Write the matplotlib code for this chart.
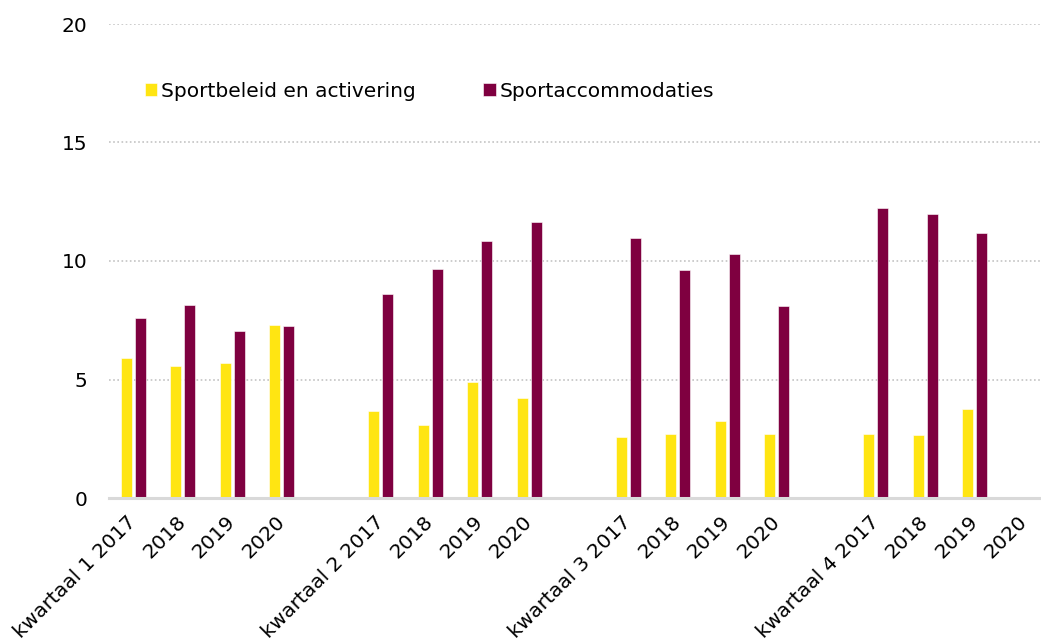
import numpy as np
import matplotlib
matplotlib.use("Agg")
import matplotlib.pyplot as plt

plt.rcParams['font.family'] = ['DejaVu Sans']

categories = ["kwartaal 1 2017", "2018", "2019", "2020", "",
              "kwartaal 2 2017", "2018", "2019", "2020", "",
              "kwartaal 3 2017", "2018", "2019", "2020", "",
              "kwartaal 4 2017", "2018", "2019", "2020"]

sportbeleid = [5.90, 5.56, 5.69, 7.31, np.nan,
               3.67, 3.06, 4.88, 4.22, np.nan,
               2.57, 2.71, 3.26, 2.71, np.nan,
               2.71, 2.64, 3.74, np.nan]

sportaccommodaties = [7.59, 8.13, 7.05, 7.25, np.nan,
                      8.62, 9.68, 10.83, 11.63, np.nan,
                      10.97, 9.62, 10.30, 8.12, np.nan,
                      12.25, 12.00, 11.18, np.nan]

series_names = ["Sportbeleid en activering", "Sportaccommodaties"]
colors = ["#FFE512", "#7F0040"]

W, H = 1041, 643
fig = plt.figure(figsize=(W / 100, H / 100), dpi=100)
ax = fig.add_axes([108.5 / W, 145 / H, 940.5 / W, 474 / H])

x = np.arange(len(categories))
bw = 0.225
off = 0.142
ax.bar(x - off, sportbeleid, width=bw, color=colors[0], edgecolor="white", linewidth=0.4,
       label=series_names[0], zorder=3)
ax.bar(x + off, sportaccommodaties, width=bw, color=colors[1], edgecolor="white", linewidth=0.4,
       label=series_names[1], zorder=3)

ax.set_xlim(-0.5, len(categories) - 0.5)
ax.set_ylim(0, 20)
ax.set_yticks([0, 5, 10, 15, 20])
ax.yaxis.grid(True, linestyle=(0, (1, 1.5)), color="#C4C4C4", linewidth=1.2, zorder=0)
ax.set_axisbelow(True)

for s in ["top", "right", "left"]:
    ax.spines[s].set_visible(False)
ax.spines["bottom"].set_color("#D9D9D9")
ax.spines["bottom"].set_linewidth(2.2)
ax.spines["bottom"].set_zorder(4)

ax.tick_params(axis="both", length=0, labelsize=14.5, colors="black")
ax.tick_params(axis="y", pad=15)
ax.set_xticks(x)
ax.set_xticklabels(categories, rotation=45, ha="right", va="center",
                   rotation_mode="anchor")
ax.tick_params(axis="x", pad=15)

leg = ax.legend(loc="upper left", bbox_to_anchor=(0.03, 0.895), ncol=2, frameon=False,
                fontsize=14.5, handlelength=0.62, handleheight=0.62, handletextpad=0.2,
                columnspacing=3.35, borderaxespad=0)

fig.savefig("out.png", dpi=100)
